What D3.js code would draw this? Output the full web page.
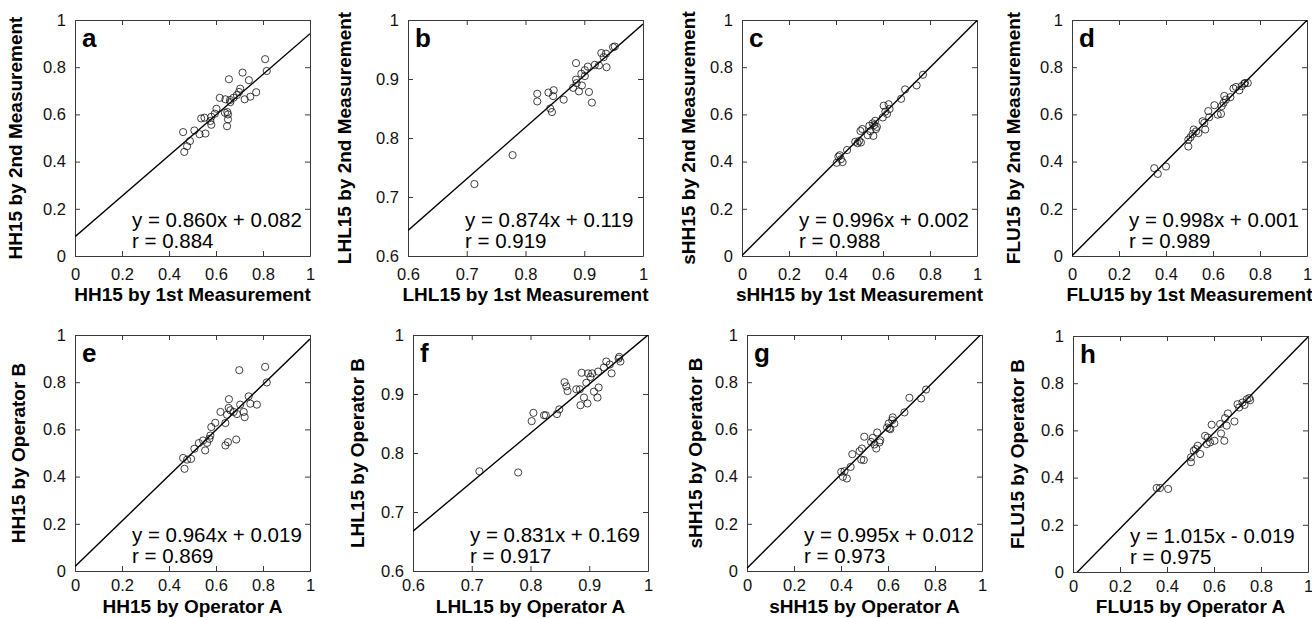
<!DOCTYPE html>
<html>
<head>
<meta charset="utf-8">
<script src="https://cdn.jsdelivr.net/npm/d3@7"></script>
<style>
  body { margin: 0; background: #fff; }
  svg { display: block; }
</style>
</head>
<body>
<script>
// Eight repeatability scatter panels (a-h), each with its fitted line

// panel text
var panelLetters = ["a", "b", "c", "d", "e", "f", "g", "h"];
var xLabels = ["HH15 by 1st Measurement", "LHL15 by 1st Measurement",
    "sHH15 by 1st Measurement", "FLU15 by 1st Measurement",
    "HH15 by Operator A", "LHL15 by Operator A",
    "sHH15 by Operator A", "FLU15 by Operator A"];
var yLabels = ["HH15 by 2nd Measurement", "LHL15 by 2nd Measurement",
    "sHH15 by 2nd Measurement", "FLU15 by 2nd Measurement",
    "HH15 by Operator B", "LHL15 by Operator B",
    "sHH15 by Operator B", "FLU15 by Operator B"];

// fits
var slopes = [0.860, 0.874, 0.996, 0.998, 0.964, 0.831, 0.995, 1.015];
var intercepts = [0.082, 0.119, 0.002, 0.001, 0.019, 0.169, 0.012, -0.019];
var rValues = [0.884, 0.919, 0.988, 0.989, 0.869, 0.917, 0.973, 0.975];

// axis ranges and ticks
var axisMin = [0, 0.6, 0, 0, 0, 0.6, 0, 0];
var ticksFull = [0, 0.2, 0.4, 0.6, 0.8, 1];
var ticksLHL = [0.6, 0.7, 0.8, 0.9, 1];

// points
var aX = [0.460, 0.465, 0.477, 0.489, 0.508, 0.530, 0.537, 0.555, 0.551,
    0.576, 0.580, 0.580, 0.616, 0.595, 0.602, 0.638, 0.648, 0.640, 0.651,
    0.651, 0.655, 0.660, 0.661, 0.675, 0.647, 0.689, 0.698, 0.703, 0.713,
    0.722, 0.740, 0.746, 0.771, 0.809, 0.816];
var aY = [0.525, 0.441, 0.465, 0.487, 0.532, 0.516, 0.583, 0.519, 0.586,
    0.572, 0.556, 0.590, 0.670, 0.603, 0.624, 0.607, 0.610, 0.664, 0.600,
    0.579, 0.749, 0.661, 0.652, 0.671, 0.550, 0.682, 0.695, 0.709, 0.777,
    0.664, 0.745, 0.675, 0.694, 0.834, 0.784];

var bX = [0.713, 0.778, 0.820, 0.820, 0.839, 0.842, 0.845, 0.847, 0.848,
    0.865, 0.886, 0.886, 0.887, 0.881, 0.891, 0.896, 0.895, 0.901, 0.901,
    0.906, 0.908, 0.913, 0.918, 0.925, 0.929, 0.937, 0.938, 0.949, 0.952,
    0.933];
var bY = [0.722, 0.771, 0.875, 0.862, 0.877, 0.850, 0.844, 0.871, 0.881,
    0.865, 0.927, 0.899, 0.893, 0.885, 0.879, 0.889, 0.909, 0.915, 0.905,
    0.921, 0.878, 0.860, 0.924, 0.923, 0.944, 0.943, 0.920, 0.954, 0.955,
    0.937];

var cX = [0.403, 0.410, 0.416, 0.421, 0.428, 0.447, 0.482, 0.492, 0.499,
    0.504, 0.506, 0.535, 0.542, 0.546, 0.556, 0.559, 0.563, 0.567, 0.570,
    0.574, 0.599, 0.603, 0.610, 0.617, 0.624, 0.628, 0.677, 0.694, 0.743,
    0.770, 0.512];
var cY = [0.395, 0.421, 0.427, 0.410, 0.398, 0.449, 0.484, 0.478, 0.488,
    0.530, 0.481, 0.512, 0.552, 0.529, 0.562, 0.509, 0.555, 0.573, 0.538,
    0.547, 0.587, 0.637, 0.612, 0.602, 0.643, 0.623, 0.666, 0.706, 0.723,
    0.768, 0.538];

var dX = [0.350, 0.365, 0.400, 0.495, 0.495, 0.504, 0.513, 0.518, 0.528,
    0.538, 0.556, 0.563, 0.567, 0.580, 0.584, 0.606, 0.620, 0.634, 0.637,
    0.645, 0.655, 0.648, 0.674, 0.687, 0.698, 0.712, 0.722, 0.733, 0.748,
    0.736];
var dY = [0.372, 0.348, 0.379, 0.464, 0.493, 0.503, 0.517, 0.536, 0.528,
    0.521, 0.571, 0.564, 0.536, 0.614, 0.588, 0.639, 0.599, 0.602, 0.635,
    0.649, 0.663, 0.678, 0.673, 0.710, 0.716, 0.702, 0.720, 0.730, 0.733,
    0.733];

var eX = [0.460, 0.466, 0.477, 0.494, 0.508, 0.527, 0.545, 0.554, 0.562,
    0.576, 0.580, 0.572, 0.597, 0.619, 0.640, 0.640, 0.651, 0.647, 0.655,
    0.654, 0.661, 0.675, 0.686, 0.689, 0.699, 0.703, 0.718, 0.722, 0.739,
    0.746, 0.774, 0.809, 0.816];
var eY = [0.479, 0.433, 0.472, 0.475, 0.518, 0.542, 0.553, 0.511, 0.543,
    0.574, 0.610, 0.560, 0.628, 0.674, 0.627, 0.532, 0.546, 0.662, 0.728,
    0.691, 0.681, 0.674, 0.557, 0.665, 0.851, 0.705, 0.674, 0.652, 0.740,
    0.709, 0.705, 0.865, 0.799];

var fX = [0.713, 0.779, 0.802, 0.805, 0.823, 0.826, 0.845, 0.849, 0.858,
    0.861, 0.863, 0.878, 0.884, 0.887, 0.885, 0.891, 0.895, 0.897, 0.898,
    0.902, 0.905, 0.908, 0.914, 0.916, 0.915, 0.925, 0.929, 0.935, 0.938,
    0.950, 0.953, 0.951];
var fY = [0.769, 0.767, 0.854, 0.868, 0.864, 0.864, 0.866, 0.874, 0.920,
    0.913, 0.905, 0.908, 0.908, 0.936, 0.881, 0.894, 0.919, 0.884, 0.935,
    0.929, 0.935, 0.904, 0.894, 0.911, 0.938, 0.945, 0.955, 0.950, 0.935,
    0.960, 0.955, 0.963];

var gX = [0.401, 0.408, 0.415, 0.425, 0.441, 0.448, 0.479, 0.486, 0.489,
    0.497, 0.499, 0.528, 0.535, 0.542, 0.550, 0.554, 0.564, 0.567, 0.596,
    0.603, 0.606, 0.610, 0.618, 0.620, 0.627, 0.670, 0.691, 0.741, 0.762];
var gY = [0.420, 0.399, 0.423, 0.392, 0.441, 0.495, 0.508, 0.472, 0.519,
    0.470, 0.569, 0.547, 0.564, 0.536, 0.519, 0.587, 0.545, 0.554, 0.608,
    0.625, 0.604, 0.601, 0.639, 0.651, 0.625, 0.672, 0.734, 0.731, 0.769];

var hX = [0.356, 0.370, 0.405, 0.502, 0.502, 0.514, 0.522, 0.531, 0.541,
    0.562, 0.569, 0.573, 0.583, 0.590, 0.602, 0.626, 0.630, 0.644, 0.647,
    0.659, 0.654, 0.687, 0.700, 0.707, 0.721, 0.730, 0.740, 0.750, 0.754];
var hY = [0.356, 0.356, 0.352, 0.465, 0.486, 0.514, 0.521, 0.535, 0.500,
    0.577, 0.542, 0.570, 0.549, 0.624, 0.556, 0.627, 0.587, 0.556, 0.652,
    0.672, 0.620, 0.638, 0.711, 0.697, 0.718, 0.708, 0.732, 0.737, 0.728];

var xsList = [aX, bX, cX, dX, eX, fX, gX, hX];
var ysList = [aY, bY, cY, dY, eY, fY, gY, hY];

// layout (pixels)
var boxW = 235, boxH = 236;
var boxLeft = [75, 408, 742, 1072, 75, 413, 747, 1073];
var boxTop = [20, 20, 20, 20, 335, 335, 335, 336];
var yLabelGap = [53, 57, 47, 52, 50, 49, 45, 49];
var xLabelGap = [45, 45, 45, 45, 42, 42, 42, 41];
var xTickPad = [12, 12, 12, 12, 8.5, 8.5, 8.5, 8.5];
var font = "'Liberation Sans', Arial, Helvetica, sans-serif";
var frameColor = "#3a3a3a";

var svg = d3.select("body")
    .append("svg")
    .attr("width", 1312)
    .attr("height", 618)
    .style("font-family", font);

var fmt3 = d3.format(".3f");

panelLetters.forEach(function(letter, i) {
    var lo = axisMin[i];
    var ticks = lo === 0 ? ticksFull : ticksLHL;

    var x = d3.scaleLinear().domain([lo, 1]).range([0, boxW]);
    var y = d3.scaleLinear().domain([lo, 1]).range([boxH, 0]);

    var g = svg.append("g")
        .attr("transform", "translate(" + boxLeft[i] + "," + boxTop[i] + ")");

    g.append("clipPath")
        .attr("id", "clip" + i)
        .append("rect")
        .attr("width", boxW)
        .attr("height", boxH);

    // frame with inward ticks on every side
    var bottom = g.append("g")
        .attr("transform", "translate(0," + boxH + ")")
        .call(d3.axisBottom(x).tickValues(ticks).tickSizeInner(-5)
            .tickSizeOuter(0).tickPadding(xTickPad[i]).tickFormat(String));
    var left = g.append("g")
        .call(d3.axisLeft(y).tickValues(ticks).tickSizeInner(-5)
            .tickSizeOuter(0).tickPadding(9).tickFormat(String));
    var top = g.append("g")
        .call(d3.axisTop(x).tickValues(ticks).tickSizeInner(-5)
            .tickSizeOuter(0).tickFormat(""));
    var right = g.append("g")
        .attr("transform", "translate(" + boxW + ",0)")
        .call(d3.axisRight(y).tickValues(ticks).tickSizeInner(-5)
            .tickSizeOuter(0).tickFormat(""));

    [bottom, left, top, right].forEach(function(ax) {
        ax.attr("font-family", font).attr("font-size", 16.5);
        ax.selectAll("path, line").attr("stroke", frameColor);
        ax.selectAll("text").attr("fill", "#111");
    });

    // fitted line
    var fx = function(v) { return slopes[i] * v + intercepts[i]; };
    g.append("line")
        .attr("clip-path", "url(#clip" + i + ")")
        .attr("x1", x(lo)).attr("y1", y(fx(lo)))
        .attr("x2", x(1)).attr("y2", y(fx(1)))
        .attr("stroke", "#000")
        .attr("stroke-width", 1.4);

    // points
    g.selectAll("circle.pt")
        .data(xsList[i])
        .enter()
        .append("circle")
        .attr("class", "pt")
        .attr("cx", function(d) { return x(d); })
        .attr("cy", function(d, k) { return y(ysList[i][k]); })
        .attr("r", 3.6)
        .attr("fill", "none")
        .attr("stroke", "#111")
        .attr("stroke-width", 0.8);

    // panel letter
    g.append("text")
        .attr("x", 7)
        .attr("y", 27)
        .attr("font-size", 26)
        .attr("font-weight", "bold")
        .text(letter);

    // equation + r
    var b = intercepts[i];
    var eq = "y = " + fmt3(slopes[i]) + "x " + (b < 0 ? "- " : "+ ") +
        fmt3(Math.abs(b));
    g.append("text")
        .attr("x", 57)
        .attr("y", boxH - 29)
        .attr("font-size", 20.5)
        .text(eq);
    g.append("text")
        .attr("x", 57)
        .attr("y", boxH - 8)
        .attr("font-size", 20.5)
        .text("r = " + fmt3(rValues[i]));

    // axis titles
    g.append("text")
        .attr("x", boxW / 2)
        .attr("y", boxH + xLabelGap[i])
        .attr("text-anchor", "middle")
        .attr("font-size", 19)
        .attr("font-weight", "bold")
        .text(xLabels[i]);
    g.append("text")
        .attr("transform", "translate(" + (-yLabelGap[i]) + "," + (boxH / 2) +
            ") rotate(-90)")
        .attr("text-anchor", "middle")
        .attr("font-size", 19)
        .attr("font-weight", "bold")
        .text(yLabels[i]);
});
</script>
</body>
</html>
